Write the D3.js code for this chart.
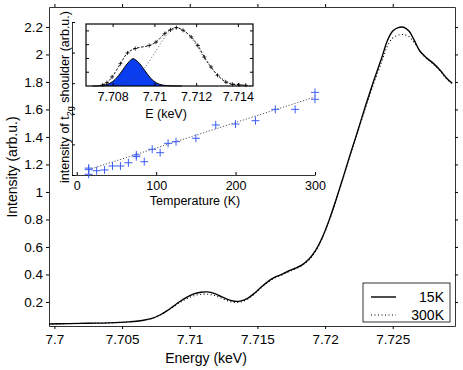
<!DOCTYPE html>
<html><head><meta charset="utf-8">
<script src="https://cdn.jsdelivr.net/npm/d3@7"></script>
<style>body{margin:0;background:#fff}svg{display:block;font-family:"Liberation Sans",Arial,sans-serif}</style>
</head><body><svg id="c" width="463" height="370"></svg>
<script>
// ---- main spectrum data ----
const energy = [7.6996,7.7010,7.7025,7.7040,7.7055,7.7065,7.7072,7.7078,7.7083,7.7088,7.7093,7.7098,7.7103,7.7108,7.7113,7.7118,7.7123,7.7128,7.7133,7.7138,7.7143,7.7148,7.7153,7.7158,7.7163,7.7168,7.7173,7.7178,7.7183,7.7188,7.7193,7.7198,7.7203,7.7208,7.7213,7.7218,7.7224,7.7230,7.7236,7.7242,7.7246,7.7250,7.7254,7.7258,7.7262,7.7266,7.7270,7.7275,7.7280,7.7285,7.7290,7.7294];
const int15K = [0.040,0.042,0.045,0.048,0.055,0.065,0.080,0.105,0.135,0.170,0.205,0.235,0.258,0.270,0.273,0.262,0.240,0.218,0.205,0.208,0.228,0.265,0.310,0.350,0.380,0.400,0.425,0.445,0.470,0.510,0.575,0.670,0.795,0.940,1.095,1.255,1.440,1.630,1.810,1.980,2.100,2.170,2.195,2.198,2.170,2.100,2.025,1.975,1.935,1.885,1.825,1.790];
const int300K = [0.040,0.042,0.045,0.048,0.055,0.065,0.080,0.105,0.133,0.165,0.198,0.225,0.245,0.255,0.256,0.248,0.228,0.208,0.197,0.200,0.222,0.260,0.305,0.345,0.375,0.395,0.420,0.440,0.465,0.505,0.570,0.665,0.790,0.935,1.090,1.250,1.430,1.615,1.790,1.950,2.060,2.120,2.140,2.145,2.130,2.085,2.025,1.970,1.930,1.880,1.820,1.785];
const mainXTicks = [7.7,7.705,7.71,7.715,7.72,7.725];
const mainYTicks = [0.2,0.4,0.6,0.8,1,1.2,1.4,1.6,1.8,2,2.2];
const legendLabels = ["15K","300K"];

// ---- inset: temperature dependence ----
const tempK = [15,15,15,25,35,45,55,65,75,75,85,95,105,115,125,150,175,200,225,250,275,300,300];
const shoulder = [1.045,1.035,1.005,1.028,1.033,1.059,1.059,1.080,1.131,1.120,1.087,1.168,1.146,1.207,1.218,1.240,1.327,1.333,1.355,1.429,1.429,1.540,1.495];
const fitT = [15,300];
const fitV = [1.035,1.51];
const tempTicks = [0,100,200,300];
const tempYTicks = [1,1.2,1.4,1.6,1.8,2];

// ---- inner inset: pre-edge fit ----
const eData = [7.7075,7.7077,7.70795,7.70835,7.70869,7.70906,7.70973,7.71005,7.71047,7.71075,7.71103,7.71135,7.71174,7.71206,7.71237,7.71269,7.71300,7.71340,7.71372,7.71403,7.71435];
const iData = [0.04,0.12,0.33,0.81,1.20,1.36,1.47,1.59,1.90,2.04,2.12,2.02,1.78,1.47,1.05,0.69,0.39,0.14,0.06,0.04,0.03];
const gaussE = [7.7070,7.7075,7.7078,7.7081,7.7084,7.7087,7.70895,7.7092,7.7095,7.7098,7.7101,7.7104,7.7108,7.7113];
const gaussI = [0.00,0.02,0.08,0.24,0.52,0.83,0.99,0.87,0.58,0.28,0.10,0.03,0.005,0.00];
const broadE = [7.7076,7.7081,7.7086,7.7091,7.7096,7.7101,7.7106,7.7111,7.7116,7.7121,7.7126,7.7131,7.7136,7.7141,7.7146];
const broadI = [0.008,0.035,0.124,0.343,0.757,1.334,1.875,2.10,1.875,1.334,0.757,0.343,0.124,0.035,0.008];
const eTicks = [7.708,7.71,7.712,7.714];

const svg = d3.select("#c");
const fmt = v => String(+v.toFixed(4));

// ===== main axes =====
const x = d3.scaleLinear().domain([7.6996,7.7296]).range([49,455]);
const y = d3.scaleLinear().domain([0.025,2.345]).range([326,7]);
const gm = svg.append("g");
gm.append("rect").attr("x",49).attr("y",7).attr("width",406).attr("height",319).attr("fill","#fff");

const line = (xs,ys,sx,sy) => d3.line().x((d,i)=>sx(xs[i])).y((d,i)=>sy(ys[i])).curve(d3.curveCatmullRom.alpha(0.5))(xs);

gm.append("path").attr("d",line(energy,int300K,x,y)).attr("fill","none").attr("stroke","#000").attr("stroke-width",1.1).attr("stroke-dasharray","1,2.5");
gm.append("path").attr("d",line(energy,int15K,x,y)).attr("fill","none").attr("stroke","#000").attr("stroke-width",1.4);

const axStyle = g => { g.selectAll("path").attr("stroke","#000").attr("stroke-width",0.8); g.selectAll("line").attr("stroke","#000"); g.selectAll("text").attr("font-size",13.5).attr("fill","#000").attr("font-family","Liberation Sans, Arial, sans-serif"); };
gm.append("g").attr("transform","translate(0,326)").call(d3.axisBottom(x).tickValues(mainXTicks).tickFormat(fmt).tickSize(3).tickSizeOuter(0).tickPadding(5)).call(axStyle);
gm.append("g").attr("transform","translate(0,7)").call(d3.axisTop(x).tickValues(mainXTicks).tickFormat("").tickSize(3).tickSizeOuter(0)).call(axStyle);
gm.append("g").attr("transform","translate(49,0)").call(d3.axisLeft(y).tickValues(mainYTicks).tickFormat(fmt).tickSize(3).tickSizeOuter(0).tickPadding(3)).call(axStyle);
gm.append("g").attr("transform","translate(455,0)").call(d3.axisRight(y).tickValues(mainYTicks).tickFormat("").tickSize(3).tickSizeOuter(0)).call(axStyle);

svg.append("text").attr("x",206).attr("y",363).attr("text-anchor","middle").attr("font-size",14).text("Energy (keV)");
svg.append("text").attr("transform","translate(17,167) rotate(-90)").attr("text-anchor","middle").attr("font-size",14).text("Intensity (arb.u.)");

// legend
const lg = svg.append("g");
lg.append("rect").attr("x",363).attr("y",283).attr("width",87).attr("height",39).attr("fill","#fff").attr("stroke","#000").attr("stroke-width",0.8);
lg.append("line").attr("x1",371).attr("x2",396).attr("y1",297).attr("y2",297).attr("stroke","#000").attr("stroke-width",1.4);
lg.append("line").attr("x1",371).attr("x2",396).attr("y1",315).attr("y2",315).attr("stroke","#000").attr("stroke-width",1.1).attr("stroke-dasharray","1,2.5");
legendLabels.forEach((t,i)=>lg.append("text").attr("x",444).attr("y",302+i*18).attr("text-anchor","end").attr("font-size",14).text(t));

// ===== inset temperature axes =====
const tx = d3.scaleLinear().domain([-6,300]).range([72,315]);
const ty = d3.scaleLinear().domain([1,2]).range([175,22]);
const gi = svg.append("g");
gi.append("rect").attr("x",72).attr("y",22).attr("width",243).attr("height",153).attr("fill","#fff");
const inStyle = g => { g.selectAll("path").attr("stroke","#000").attr("stroke-width",0.8); g.selectAll("line").attr("stroke","#000"); g.selectAll("text").attr("font-size",12.5).attr("fill","#000").attr("font-family","Liberation Sans, Arial, sans-serif"); };
gi.append("g").attr("transform","translate(0,175)").call(d3.axisBottom(tx).tickValues(tempTicks).tickSize(-3).tickSizeOuter(0).tickPadding(6)).call(inStyle);
gi.append("g").attr("transform","translate(72,0)").call(d3.axisLeft(ty).tickValues(tempYTicks).tickFormat("").tickSize(-3).tickSizeOuter(0)).call(inStyle);
gi.append("path").attr("d",d3.line().x((d,i)=>tx(fitT[i])).y((d,i)=>ty(fitV[i]))(fitT)).attr("stroke","#444").attr("stroke-width",0.9).attr("stroke-dasharray","1.2,1.8").attr("fill","none");
const cross = (g,cx,cy,s,col,w) => { g.append("path").attr("d",`M${cx-s},${cy}H${cx+s}M${cx},${cy-s}V${cy+s}`).attr("stroke",col).attr("stroke-width",w).attr("fill","none"); };
tempK.forEach((t,i)=>cross(gi,tx(t),ty(shoulder[i]),4,"#3d5cf5",1));
gi.append("text").attr("x",195).attr("y",205).attr("text-anchor","middle").attr("font-size",12.5).text("Temperature (K)");
const yl = gi.append("text").attr("transform","translate(69,97) rotate(-90)").attr("text-anchor","middle").attr("font-size",12.5);
yl.append("tspan").text("intensity of t");
yl.append("tspan").attr("font-size",9).attr("dy",4).text("2g");
yl.append("tspan").attr("dy",-4).text(" shoulder (arb.u.)");

// ===== inner inset: E axes =====
const ex = d3.scaleLinear().domain([7.7067,7.7147]).range([86,253]);
const ey = d3.scaleLinear().domain([0,2.25]).range([86,24]);
const ge = svg.append("g");
ge.append("rect").attr("x",86).attr("y",24).attr("width",167).attr("height",62).attr("fill","#fff");
ge.append("path").attr("d",d3.area().x((d,i)=>ex(gaussE[i])).y0(ey(0)).y1((d,i)=>ey(gaussI[i])).curve(d3.curveCatmullRom)(gaussE)).attr("fill","#0a3cf0");
ge.append("path").attr("d",line(gaussE,gaussI,ex,ey)).attr("fill","none").attr("stroke","#000").attr("stroke-width",1);
ge.append("path").attr("d",line(broadE,broadI,ex,ey)).attr("fill","none").attr("stroke","#333").attr("stroke-width",0.8).attr("stroke-dasharray","1,2.2");
ge.append("path").attr("d",line(eData,iData,ex,ey)).attr("fill","none").attr("stroke","#000").attr("stroke-width",0.9).attr("stroke-dasharray","2.5,1.5");
eData.forEach((e,i)=>cross(ge,ex(e),ey(iData[i]),2,"#000",0.8));
ge.append("rect").attr("x",86).attr("y",24).attr("width",167).attr("height",62).attr("fill","none").attr("stroke","#000").attr("stroke-width",1.2);
eTicks.forEach(t=>{
  ge.append("line").attr("x1",ex(t)).attr("x2",ex(t)).attr("y1",86).attr("y2",83).attr("stroke","#000");
  ge.append("line").attr("x1",ex(t)).attr("x2",ex(t)).attr("y1",24).attr("y2",27).attr("stroke","#000");
  ge.append("text").attr("x",ex(t)).attr("y",101).attr("text-anchor","middle").attr("font-size",12.5).text(fmt(t));
});
[0.5,1,1.5,2].forEach(v=>{
  ge.append("line").attr("x1",86).attr("x2",89).attr("y1",ey(v)).attr("y2",ey(v)).attr("stroke","#000");
  ge.append("line").attr("x1",253).attr("x2",250).attr("y1",ey(v)).attr("y2",ey(v)).attr("stroke","#000");
});
ge.append("text").attr("x",166).attr("y",118).attr("text-anchor","middle").attr("font-size",12.5).text("E (keV)");
</script></body></html>
